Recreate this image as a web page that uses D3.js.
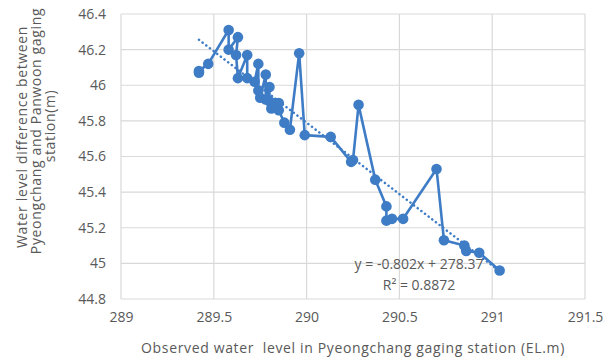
<!DOCTYPE html>
<html>
<head>
<meta charset="utf-8">
<script src="https://cdn.jsdelivr.net/npm/d3@7"></script>
<style>
  body { margin: 0; background: #fff; }
  text { font-family: "Open Sans", sans-serif; fill: #595959; }
  .title { white-space: pre; letter-spacing: 0.65px; }
</style>
</head>
<body>
<div id="chart"></div>
<script>
// Observed water level at Pyeongchang (EL.m), in series order
var levels = [289.42, 289.42, 289.47, 289.58, 289.58, 289.63, 289.62, 289.63, 289.68, 289.68,
  289.72, 289.74, 289.74, 289.75, 289.78, 289.78, 289.80, 289.80, 289.81, 289.83,
  289.85, 289.85, 289.88, 289.91, 289.96, 289.99, 290.13, 290.24, 290.25, 290.28,
  290.37, 290.43, 290.43, 290.46, 290.52, 290.70, 290.74, 290.85, 290.86, 290.93, 291.04];
// Water level difference Pyeongchang - Panwoon (m)
var differences = [46.07, 46.08, 46.12, 46.31, 46.20, 46.27, 46.17, 46.04, 46.17, 46.04,
  46.02, 46.12, 45.97, 45.93, 46.06, 45.92, 45.99, 45.91, 45.87, 45.90,
  45.90, 45.86, 45.79, 45.75, 46.18, 45.72, 45.71, 45.57, 45.58, 45.89,
  45.47, 45.32, 45.24, 45.25, 45.25, 45.53, 45.13, 45.10, 45.07, 45.06, 44.96];

var xTicks = [289, 289.5, 290, 290.5, 291, 291.5];
var yTicks = [44.8, 45, 45.2, 45.4, 45.6, 45.8, 46, 46.2, 46.4];

// linear trendline shown on the chart
var slope = -0.802, intercept = 278.37, rSquared = "0.8872";

var data = levels.map(function (d, i) { return { x: d, y: differences[i] }; });

var margin = { top: 14, right: 18, bottom: 64, left: 121 },
  width = 603 - margin.left - margin.right,
  height = 363 - margin.top - margin.bottom;

var blue = "#3e7cc6";

var svg = d3.select("#chart")
  .append("svg")
  .attr("width", 603)
  .attr("height", 363);

svg.append("rect").attr("width", 603).attr("height", 363).attr("fill", "#fff");

var g = svg.append("g")
  .attr("transform", "translate(" + margin.left + "," + margin.top + ")");

var x = d3.scaleLinear().domain([289, 291.5]).range([0, width]);
var y = d3.scaleLinear().domain([44.8, 46.4]).range([height, 0]);

// gridlines
g.append("g")
  .selectAll("line.v")
  .data(xTicks)
  .join("line")
  .attr("x1", function (d) { return x(d); })
  .attr("x2", function (d) { return x(d); })
  .attr("y1", 0)
  .attr("y2", height)
  .attr("stroke", "#d9d9d9")
  .attr("stroke-width", 1.2);

g.append("g")
  .selectAll("line.h")
  .data(yTicks)
  .join("line")
  .attr("x1", 0)
  .attr("x2", width)
  .attr("y1", function (d) { return y(d); })
  .attr("y2", function (d) { return y(d); })
  .attr("stroke", "#d9d9d9")
  .attr("stroke-width", 1.2);

// axes (labels only, Excel style)
var xAxis = g.append("g")
  .attr("transform", "translate(0," + height + ")")
  .call(d3.axisBottom(x).tickValues(xTicks).tickSize(0).tickPadding(13)
    .tickFormat(function (d) { return String(d); }));
xAxis.select(".domain").remove();
xAxis.selectAll("text").style("font-size", "14px").style("fill", "#595959")
  .style("font-family", "'Open Sans', sans-serif");

var yAxis = g.append("g")
  .call(d3.axisLeft(y).tickValues(yTicks).tickSize(0).tickPadding(15)
    .tickFormat(function (d) { return String(+d.toFixed(1)); }));
yAxis.select(".domain").remove();
yAxis.selectAll("text").style("font-size", "14px").style("fill", "#595959")
  .style("font-family", "'Open Sans', sans-serif");

// trendline (dotted)
var tx = d3.extent(levels);
g.append("line")
  .attr("x1", x(tx[0]))
  .attr("y1", y(slope * tx[0] + intercept))
  .attr("x2", x(tx[1]))
  .attr("y2", y(slope * tx[1] + intercept))
  .attr("stroke", blue)
  .attr("stroke-width", 2.5)
  .attr("stroke-linecap", "round")
  .attr("stroke-dasharray", "0.1,4.5");

// series line
g.append("path")
  .datum(data)
  .attr("fill", "none")
  .attr("stroke", blue)
  .attr("stroke-width", 2.6)
  .attr("stroke-linejoin", "round")
  .attr("d", d3.line()
    .x(function (d) { return x(d.x); })
    .y(function (d) { return y(d.y); }));

// markers
g.selectAll("circle")
  .data(data)
  .join("circle")
  .attr("cx", function (d) { return x(d.x); })
  .attr("cy", function (d) { return y(d.y); })
  .attr("r", 5.3)
  .attr("fill", blue);

// trendline equation
svg.append("text")
  .attr("x", 419)
  .attr("y", 269)
  .attr("text-anchor", "middle")
  .style("font-size", "14px")
  .text("y = " + slope + "x + " + intercept);
svg.append("text")
  .attr("x", 419)
  .attr("y", 290)
  .attr("text-anchor", "middle")
  .style("font-size", "14px")
  .text("R² = " + rSquared);

// x axis title
svg.append("text")
  .attr("class", "title")
  .attr("x", margin.left + width / 2)
  .attr("y", 353)
  .attr("text-anchor", "middle")
  .style("font-size", "14px")
  .text("Observed water  level in Pyeongchang gaging station (EL.m)");

// y axis title
var yTitle = [
  { t: "Water level difference between", cx: 27, cy: 137 },
  { t: "Pyeongchang and Panwoon gaging", cx: 41, cy: 131 },
  { t: "station(m)", cx: 55, cy: 126 }
];
svg.selectAll("text.ytitle")
  .data(yTitle)
  .join("text")
  .attr("class", "ytitle title")
  .attr("transform", function (d) { return "translate(" + d.cx + "," + d.cy + ") rotate(-90)"; })
  .attr("text-anchor", "middle")
  .style("font-size", "14px")
  .text(function (d) { return d.t; });
</script>
</body>
</html>
